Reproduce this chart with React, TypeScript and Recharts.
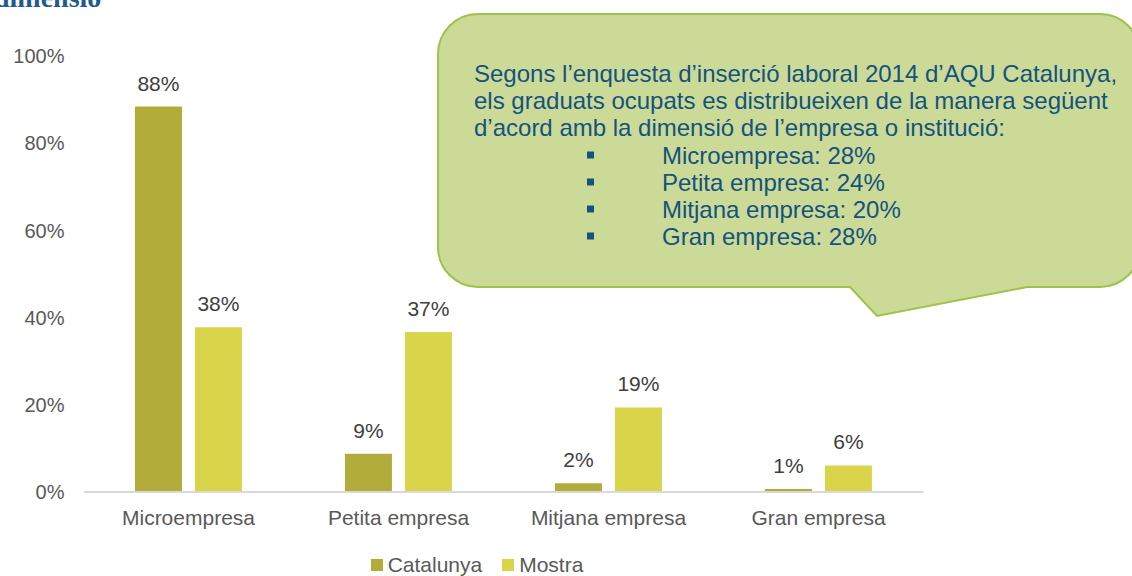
import React from "react";
import { BarChart, Bar, XAxis, YAxis, LabelList, Legend } from "recharts";

const categories = ["Microempresa", "Petita empresa", "Mitjana empresa", "Gran empresa"];
const catalunya = [88.4, 8.8, 2.0, 0.7];
const mostra = [37.8, 36.7, 19.4, 6.1];
const yTicks = [0, 20, 40, 60, 80, 100];
const seriesNames = ["Catalunya", "Mostra"];
const seriesColors = ["#B2AD3B", "#DAD44A"];

const calloutIntro = [
  "Segons l\u2019enquesta d\u2019inserció laboral 2014 d\u2019AQU Catalunya,",
  "els graduats ocupats es distribueixen de la manera següent",
  "d\u2019acord amb la dimensió de l\u2019empresa o institució:",
];
const calloutItems = [
  "Microempresa: 28%",
  "Petita empresa: 24%",
  "Mitjana empresa: 20%",
  "Gran empresa: 28%",
];

const data = categories.map((c, i) => ({
  name: c,
  Catalunya: catalunya[i],
  Mostra: mostra[i],
}));

const FONT = "'Liberation Sans', Arial, sans-serif";

const fmt = (v: any) => `${Math.round(Number(v))}%`;

const LegendContent = (props: any) => {
  const { payload } = props;
  return (
    <div style={{ display: "flex", justifyContent: "center", alignItems: "center", fontFamily: FONT, fontSize: 21, color: "#595959" }}>
      {(payload || []).map((p: any, i: number) => (
        <div key={i} style={{ display: "flex", alignItems: "center", marginRight: i === 0 ? 20 : 0 }}>
          <div style={{ width: 12, height: 12, background: p.color, marginRight: 5 }} />
          <span>{p.value}</span>
        </div>
      ))}
    </div>
  );
};

const Callout = () => {
  const x0 = 438, x1 = 1140, y0 = 14, y1 = 287, r = 40;
  const d = `M ${x0 + r} ${y0} L ${x1 - r} ${y0} A ${r} ${r} 0 0 1 ${x1} ${y0 + r} L ${x1} ${y1 - r} A ${r} ${r} 0 0 1 ${x1 - r} ${y1} L 1027 ${y1} L 877 316 L 850 ${y1} L ${x0 + r} ${y1} A ${r} ${r} 0 0 1 ${x0} ${y1 - r} L ${x0} ${y0 + r} A ${r} ${r} 0 0 1 ${x0 + r} ${y0} Z`;
  return (
    <svg width={1132} height={576} style={{ position: "absolute", left: 0, top: 0, pointerEvents: "none" }}>
      <text x={-6} y={7} fontFamily="'Liberation Serif', 'DejaVu Serif', serif" fontSize={28} fontWeight="bold" fill="#1F5C8B">dimensió</text>
      <path d={d} fill="#CBDA96" stroke="#9DC34B" strokeWidth={2} />
      {calloutIntro.map((t, i) => (
        <text key={i} x={474} y={73 + i * 27.2} dominantBaseline="central" fontFamily={FONT} fontSize={24} fill="#14527F">{t}</text>
      ))}
      {calloutItems.map((t, i) => (
        <g key={i}>
          <rect x={587} y={155 + i * 27 - 3.5} width={7} height={7} fill="#14527F" />
          <text x={662} y={155 + i * 27} dominantBaseline="central" fontFamily={FONT} fontSize={24} fill="#14527F">{t}</text>
        </g>
      ))}
    </svg>
  );
};

export default function App() {
  return (
    <div style={{ position: "absolute", left: 0, top: 0, width: 1132, height: 576, background: "#fff", overflow: "hidden" }}>
      <BarChart
        width={1132}
        height={576}
        data={data}
        margin={{ top: 56, right: 1132 - 923.5, bottom: 54, left: 0 }}
        barCategoryGap="24.5%"
        barGap={13}
      >
        <XAxis
          dataKey="name"
          height={30}
          axisLine={{ stroke: "#D9D9D9", strokeWidth: 2 }}
          tickLine={false}
          tickSize={0}
          tickMargin={18}
          tick={{ fill: "#595959", fontSize: 21, fontFamily: FONT }}
          interval={0}
        />
        <YAxis
          width={83.5}
          domain={[0, 100]}
          ticks={yTicks}
          axisLine={false}
          tickLine={false}
          tickSize={0}
          tickMargin={19}
          tickFormatter={(v: number) => `${v}%`}
          tick={{ fill: "#595959", fontSize: 20, fontFamily: FONT }}
        />
        <Legend
          layout="horizontal"
          verticalAlign="middle"
          align="center"
          wrapperStyle={{ top: 553, left: 0, width: 954 }}
          content={<LegendContent />}
        />
        {seriesNames.map((s, i) => (
          <Bar key={s} dataKey={s} fill={seriesColors[i]} isAnimationActive={false}>
            <LabelList dataKey={s} position="top" offset={16} formatter={fmt} style={{ fill: "#404040", fontSize: 21, fontFamily: FONT }} />
          </Bar>
        ))}
      </BarChart>
      <Callout />
    </div>
  );
}
